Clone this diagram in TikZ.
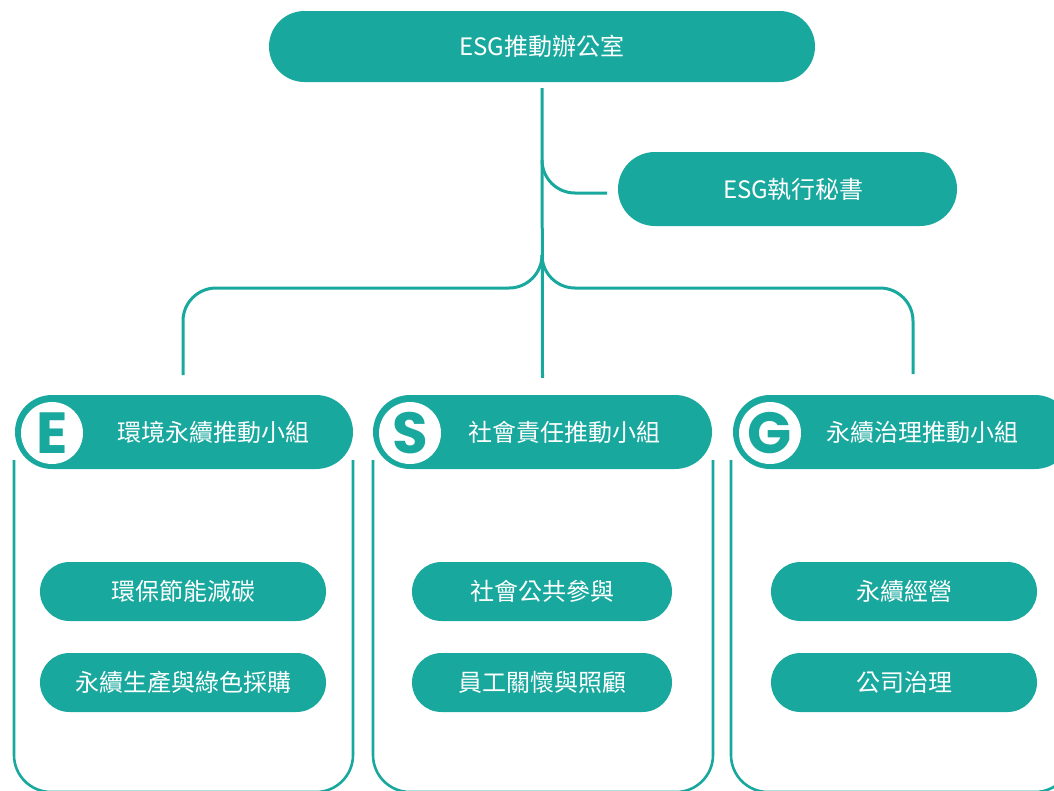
\documentclass[tikz,border=0pt]{standalone}
\usepackage{fontspec}
\setmainfont{Noto Sans CJK TC}
\newfontfamily\letterfont{Poppins}[UprightFont={* Bold}]
\definecolor{teal0}{RGB}{24,168,158}
\begin{document}
\begin{tikzpicture}[x=1pt,y=-1pt,
  pill/.style={fill=teal0, draw=none, inner sep=0pt, text=white,
    font=\fontsize{24}{28}\selectfont},
  lbl/.style={text=white, inner sep=0pt, font=\fontsize{24}{28}\selectfont},
  conn/.style={draw=teal0, line width=3pt, rounded corners=33pt},
  outline/.style={draw=teal0, line width=2.6pt, rounded corners=37pt},
  badge/.style={circle, fill=white, minimum size=62pt, inner sep=0pt, text=teal0,
    font=\letterfont\fontsize{58}{60}\selectfont}]
\useasboundingbox (0,0) rectangle (1054,790);
\clip (0,0) rectangle (1054,790);

% group outlines
\draw[outline] (14,460) -- (14,792) -- (353,792) -- (353,460);
\draw[outline] (373,460) -- (373,792) -- (713,792) -- (713,460);
\draw[outline] (731,460) -- (731,792) -- (1072,792) -- (1072,460);

% top nodes
\node[pill, minimum width=546pt, minimum height=71pt, rounded corners=35.5pt] (top) at (542,46.5) {ESG推動辦公室};
\node[pill, minimum width=339pt, minimum height=74pt, rounded corners=37pt] (sec) at (787.5,189) {\hspace*{12pt}ESG執行秘書};

% group headers
\node[pill, minimum width=338pt, minimum height=74pt, rounded corners=37pt] (hE) at (184,432) {};
\node[pill, minimum width=339pt, minimum height=74pt, rounded corners=37pt] (hS) at (542.5,432) {};
\node[pill, minimum width=339pt, minimum height=74pt, rounded corners=37pt] (hG) at (902.5,432) {};
\node[badge] (cE) at (52,433) {E};
\node[badge] (cS) at (410,433) {S};
\node[badge] (cG) at (770,433) {G};
\node[lbl] (tE) at (213,432) {環境永續推動小組};
\node[lbl] (tS) at (564,432) {社會責任推動小組};
\node[lbl] (tG) at (922,432) {永續治理推動小組};

% sub items
\node[pill, minimum width=286pt, minimum height=59pt, rounded corners=29.5pt] (e1) at (183,591.5) {環保節能減碳};
\node[pill, minimum width=286pt, minimum height=59pt, rounded corners=29.5pt] (e2) at (183,682.5) {永續生產與綠色採購};
\node[pill, minimum width=260pt, minimum height=59pt, rounded corners=29.5pt] (s1) at (542,591.5) {社會公共參與};
\node[pill, minimum width=260pt, minimum height=59pt, rounded corners=29.5pt] (s2) at (542,682.5) {員工關懷與照顧};
\node[pill, minimum width=266pt, minimum height=59pt, rounded corners=29.5pt] (g1) at (904,591.5) {永續經營};
\node[pill, minimum width=266pt, minimum height=59pt, rounded corners=29.5pt] (g2) at (904,682.5) {公司治理};

% connectors
\coordinate (trunkTop) at ([yshift=-6pt]top.south);
\coordinate (trunkEnd) at ([yshift=17pt]hS.north);
\coordinate (secFork) at (542,160);
\coordinate (secEnd) at (607,193);
\coordinate (split) at (542,255);
\coordinate (endE) at (183,375);
\coordinate (endG) at (913,374);
\draw[conn] (trunkTop) -- (trunkEnd);
\draw[conn] (secFork) |- (secEnd);
\draw[conn] (split) |- (183,288) -- (endE);
\draw[conn] (split) |- (913,288) -- (endG);
\end{tikzpicture}
\end{document}
